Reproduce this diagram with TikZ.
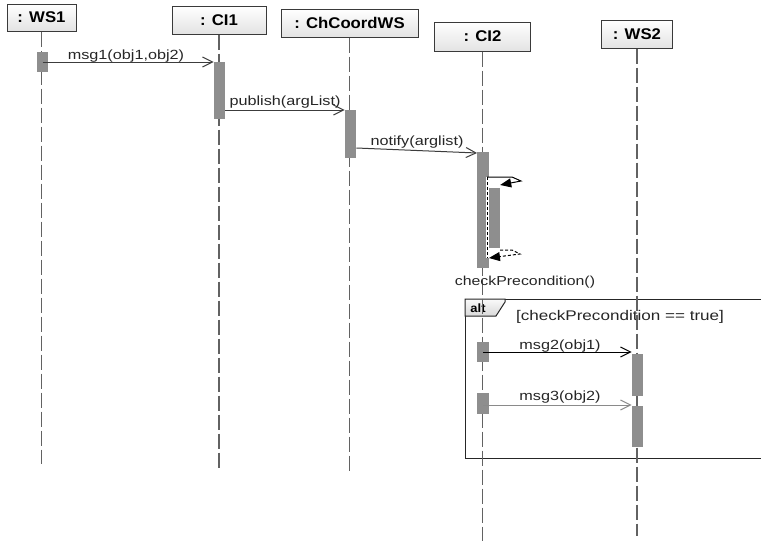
\documentclass[tikz,border=0pt]{standalone}
\usepackage{fontspec}
\setmainfont{Liberation Sans}
\newfontfamily\msgfont[FakeStretch=1.22]{Liberation Sans}
\newfontfamily\headfont[FakeStretch=1.08]{Liberation Sans}
\usetikzlibrary{arrows.meta}
\definecolor{barc}{HTML}{8E8E8E}
\definecolor{lifec}{HTML}{626262}
\definecolor{headline}{HTML}{3A3A3A}
\definecolor{textc}{HTML}{262626}
\definecolor{linec}{HTML}{3C3C3C}
\definecolor{lightline}{HTML}{8A8A8A}
\begin{document}
\begin{tikzpicture}[x=1pt,y=-1pt,
  head/.style={draw=headline, line width=1pt, top color=white, bottom color=gray!22,
    inner sep=0pt, font=\headfont\bfseries\fontsize{15.5}{18}\selectfont},
  lifeline/.style={draw=lifec, line width=1.2pt, dash pattern=on 15pt off 4pt},
  actbar/.style={fill=barc, draw=none, inner sep=0pt, minimum width=11.5pt, minimum height=#1},
  msgline/.style={draw=#1, line width=1pt, -{Straight Barb[length=10pt,width=10pt,line width=1pt]}},
  lbl/.style={font=\msgfont\fontsize{13.3}{15}\selectfont, text=textc, inner sep=0pt, anchor=base},
  selfmsg/.style={draw=black, line width=1pt, -{Triangle[length=11pt,width=9pt]}},
  framebox/.style={draw=black!85, line width=1pt}]
\useasboundingbox (0,0) rectangle (761,541);
\fill[white] (0,0) rectangle (761,541);

% alt frame
\draw[framebox] (761,299) -- (465,299) -- (465,458) -- (761,458);
\draw[framebox, top color=gray!4, bottom color=gray!30] (465,299) -- (505,299) -- (505,302) -- (496,316) -- (465,316) -- cycle;
\node[font=\headfont\bfseries\fontsize{12}{14}\selectfont, inner sep=0pt, anchor=base] (alt) at (478,312) {alt};
\node[lbl, font=\msgfont\fontsize{14}{16}\selectfont] (guard) at (620,320) {[checkPrecondition == true]};

% lifeline heads
\node[head, minimum width=69pt, minimum height=27pt] (ws1) at (41.5,17.5) {: WS1};
\node[head, minimum width=94pt, minimum height=28pt] (ci1) at (219,20) {: CI1};
\node[head, minimum width=137pt, minimum height=28pt] (chc) at (349.5,23) {: ChCoordWS};
\node[head, minimum width=96pt, minimum height=29pt] (ci2) at (482.5,36.5) {: CI2};
\node[head, minimum width=71pt, minimum height=28pt] (ws2) at (637,34) {: WS2};

% lifelines
\draw[lifeline] (ws1.south) -- (ws1.south |- 0,464);
\draw[lifeline] (ci1.south) -- (ci1.south |- 0,468);
\draw[lifeline] (chc.south) -- (chc.south |- 0,472);
\draw[lifeline] (ci2.south) -- (ci2.south |- 0,541);
\draw[lifeline] (ws2.south) -- (ws2.south |- 0,536);

% activation bars
\node[actbar=20pt] (b1) at (42.5,62) {};
\node[actbar=57pt] (b2) at (219.5,90.5) {};
\node[actbar=48pt] (b3) at (350.5,134) {};
\node[actbar=116pt] (b4) at (483,210) {};
\node[actbar=60pt, minimum width=11pt] (b5) at (494.5,218) {};
\node[actbar=20pt] (b6) at (483,352) {};
\node[actbar=21pt] (b7) at (483,403.5) {};
\node[actbar=42pt] (b8) at (637.5,375) {};
\node[actbar=41pt] (b9) at (637.5,426.5) {};

% messages
\draw[msgline=linec] (b1.center |- 0,62) -- (b2.west |- 0,62);
\node[lbl] (m1) at (126,59) {msg1(obj1,obj2)};
\draw[msgline=linec] (b2.east |- 0,110) -- (b3.west |- 0,110);
\node[lbl] (m2) at (285,105.5) {publish(argList)};
\draw[msgline=linec] (b3.east |- 0,148) -- (b4.west |- 0,153);
\node[lbl] (m3) at (417,145) {notify(arglist)};

% self call
\draw[white, line width=2.5pt] (487.5,177) -- (487.5,258);
\draw[black, line width=0.8pt, dash pattern=on 3pt off 2pt] (487.5,177) -- (487.5,258);
\coordinate (s1) at (512,177);
\coordinate (s2) at (521,181);
\coordinate (r1) at (512,250);
\coordinate (r2) at (520,254);
\draw[selfmsg] (487,177) -- (s1) -- (s2) -- (b5.east |- 0,185);
\draw[selfmsg, dash pattern=on 3pt off 2pt] (b5.east |- 0,250) -- (r1) -- (r2) -- (b4.east |- 0,258);
\node[lbl, font=\msgfont\fontsize{13}{15}\selectfont] (cp) at (525,285) {checkPrecondition()};

% alt messages
\draw[msgline=black] (b6.center |- 0,352) -- (b8.west |- 0,352);
\node[lbl] (m4) at (560,349) {msg2(obj1)};
\draw[msgline=lightline] (b7.center |- 0,405) -- (b9.west |- 0,405);
\node[lbl] (m5) at (560,400.5) {msg3(obj2)};
\end{tikzpicture}
\end{document}
